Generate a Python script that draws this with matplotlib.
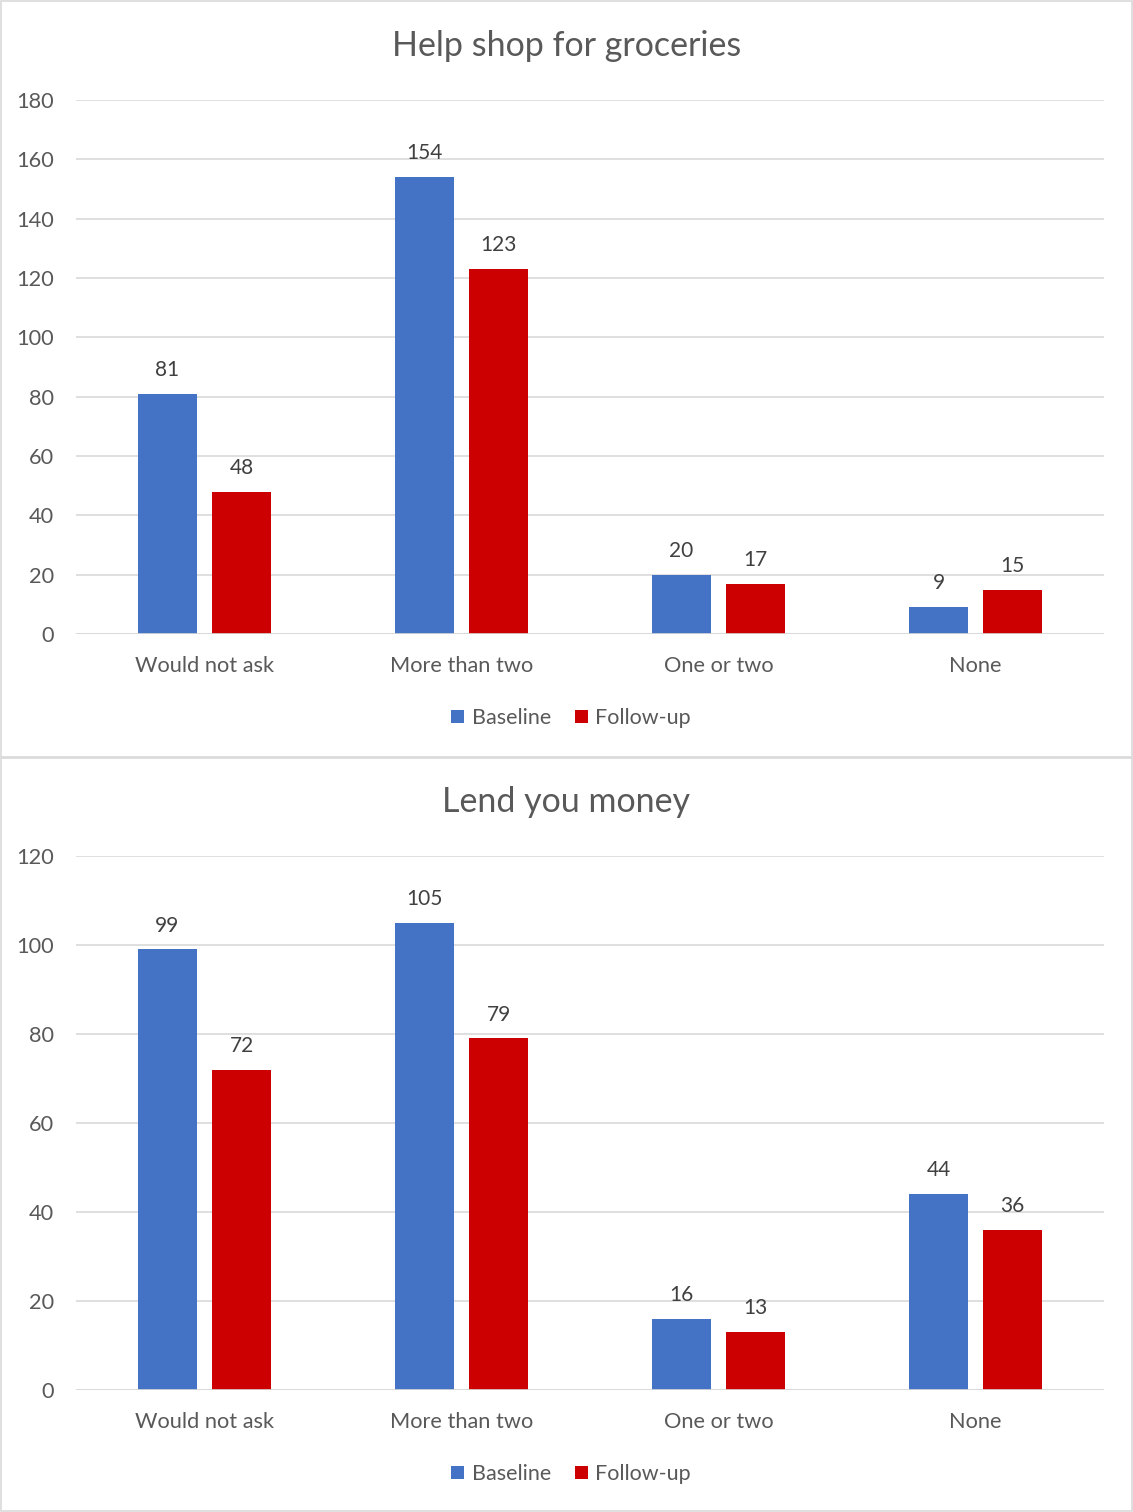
import matplotlib.pyplot as plt
import numpy as np
from matplotlib.patches import Rectangle

categories = ["Would not ask", "More than two", "One or two", "None"]
series_names = ["Baseline", "Follow-up"]

groceries_baseline = [81, 154, 20, 9]
groceries_followup = [48, 123, 17, 15]

money_baseline = [99, 105, 16, 44]
money_followup = [72, 79, 13, 36]

titles = ["Help shop for groceries", "Lend you money"]
ymax = [180, 120]
ystep = [20, 20]

BLUE = "#4472C4"
RED = "#CC0000"
TXT = "#595959"
GRID = "#D9D9D9"

plt.rcParams['font.family'] = ['Lato', 'DejaVu Sans']

W, H = 1133, 1512
fig = plt.figure(figsize=(W / 100, H / 100), dpi=100)


def fx(px):
    return px / W


def fy(py):
    return 1 - py / H


# panel borders
for top, bot in [(1, 757), (758, 1511)]:
    fig.patches.append(Rectangle((fx(0.5), fy(bot)), fx(W - 1.5), fy(top) - fy(bot),
                                 transform=fig.transFigure, fill=False,
                                 edgecolor=GRID, lw=1.2))

panels = [
    (groceries_baseline, groceries_followup, 100, 634, 46, 718),
    (money_baseline, money_followup, 856, 1390, 802, 1474),
]

bw = 0.226
off = 0.144
x = np.arange(len(categories))

for i, (base, foll, ytop, ybot, ttl_y, leg_y) in enumerate(panels):
    ax = fig.add_axes([fx(76), fy(ybot), fx(1104 - 76), fy(ytop) - fy(ybot)])
    b1 = ax.bar(x - off, base, bw, color=BLUE, label=series_names[0], zorder=3)
    b2 = ax.bar(x + off, foll, bw, color=RED, label=series_names[1], zorder=3)
    for bars in (b1, b2):
        ax.bar_label(bars, padding=10, color="#404040", fontsize=15)
    ax.set_xlim(-0.5, len(categories) - 0.5)
    ax.set_ylim(0, ymax[i])
    ax.set_yticks(np.arange(0, ymax[i] + 1, ystep[i]))
    ax.set_xticks(x)
    ax.set_xticklabels(categories)
    ax.grid(axis='y', color=GRID, lw=1.2, zorder=0)
    for s in ax.spines.values():
        s.set_visible(False)
    ax.axhline(0, color=GRID, lw=1.2, zorder=4)
    ax.tick_params(axis='both', length=0, colors=TXT, labelsize=15.7)
    ax.tick_params(axis='x', pad=16)
    ax.tick_params(axis='y', pad=16)
    fig.text(0.5, fy(ttl_y), titles[i], ha='center', va='center',
             fontsize=24.5, color=TXT)
    fig.legend(handles=[b1, b2], loc='center', bbox_to_anchor=(fx(571), fy(leg_y)),
               ncol=2, frameon=False, fontsize=15.5, labelcolor=TXT,
               handlelength=0.6, handleheight=0.6, handletextpad=0.35,
               columnspacing=1.1)

fig.savefig("out.png", dpi=100)
